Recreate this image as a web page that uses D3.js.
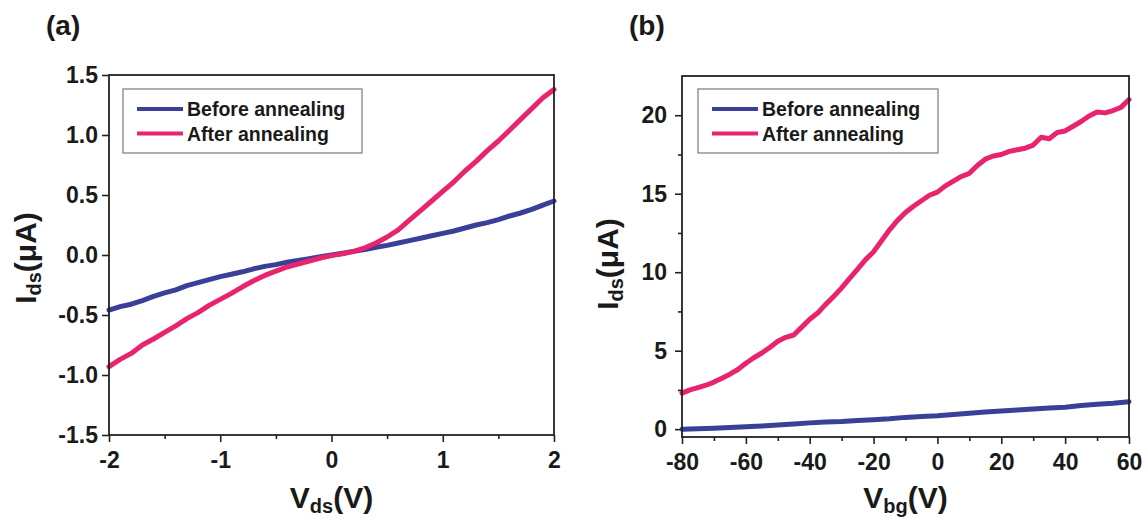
<!DOCTYPE html>
<html lang="en">
<head>
    <meta charset="UTF-8">
    <title>Ids vs Vds and Vbg</title>
    <script src="https://d3js.org/d3.v7.min.js"></script>
    <style>
        body { margin: 0; background: #ffffff; }
        svg text { font-family: "Liberation Sans", Arial, sans-serif; font-weight: bold; fill: #1a1a1a; }
    </style>
</head>
<body>
<script>
    // ---- data ----
    var seriesNames = ["Before annealing", "After annealing"];
    var seriesColors = ["#3a3f98", "#e8246f"];

    // panel (a): Ids (uA) vs Vds (V)
    var vdsValues = [-2.0, -1.9, -1.8, -1.7, -1.6, -1.5, -1.4, -1.3, -1.2, -1.1, -1.0,
                     -0.9, -0.8, -0.7, -0.6, -0.5, -0.4, -0.3, -0.2, -0.1, 0.0,
                     0.1, 0.2, 0.3, 0.4, 0.5, 0.6, 0.7, 0.8, 0.9, 1.0,
                     1.1, 1.2, 1.3, 1.4, 1.5, 1.6, 1.7, 1.8, 1.9, 2.0];
    var beforeA = [-0.46, -0.43, -0.41, -0.38, -0.345, -0.315, -0.29, -0.255, -0.23, -0.205, -0.18,
                   -0.16, -0.14, -0.115, -0.095, -0.08, -0.06, -0.045, -0.03, -0.015, 0.0,
                   0.015, 0.03, 0.045, 0.065, 0.08, 0.1, 0.12, 0.14, 0.16, 0.18,
                   0.2, 0.225, 0.25, 0.27, 0.295, 0.325, 0.35, 0.38, 0.415, 0.45];
    var afterA = [-0.93, -0.87, -0.82, -0.75, -0.70, -0.645, -0.59, -0.53, -0.48, -0.42, -0.37,
                  -0.32, -0.265, -0.215, -0.17, -0.135, -0.1, -0.075, -0.05, -0.025, -0.005,
                  0.01, 0.03, 0.06, 0.1, 0.15, 0.21, 0.29, 0.37, 0.45, 0.53,
                  0.61, 0.70, 0.78, 0.87, 0.95, 1.04, 1.13, 1.22, 1.31, 1.38];
    var xTicksA = [-2, -1, 0, 1, 2];
    var xMinorA = [-1.5, -0.5, 0.5, 1.5];
    var yTicksA = [-1.5, -1.0, -0.5, 0.0, 0.5, 1.0, 1.5];

    // panel (b): Ids (uA) vs Vbg (V)
    var vbgAfter = [-80, -77.5, -75, -72.5, -70, -67.5, -65, -62.5, -60, -57.5, -55, -52.5, -50, -47.5,
                    -45, -42.5, -40, -37.5, -35, -32.5, -30, -27.5, -25, -22.5, -20, -17.5, -15, -12.5,
                    -10, -7.5, -5, -2.5, 0, 2.5, 5, 7.5, 10, 12.5, 15, 17.5, 20, 22.5, 25, 27.5,
                    30, 32.5, 35, 37.5, 40, 42.5, 45, 47.5, 50, 52.5, 55, 57.5, 60];
    var afterB = [2.3, 2.5, 2.65, 2.8, 3.0, 3.25, 3.5, 3.8, 4.2, 4.55, 4.85, 5.2, 5.6, 5.85,
                  6.0, 6.5, 7.0, 7.4, 7.95, 8.45, 9.0, 9.6, 10.2, 10.8, 11.3, 12.0, 12.7, 13.3,
                  13.8, 14.2, 14.55, 14.9, 15.1, 15.5, 15.8, 16.1, 16.3, 16.8, 17.2, 17.4, 17.5, 17.7, 17.8, 17.9,
                  18.1, 18.6, 18.5, 18.9, 19.0, 19.3, 19.6, 19.95, 20.2, 20.15, 20.3, 20.5, 21.0];
    var vbgBefore = [-80, -75, -70, -65, -60, -55, -50, -45, -40, -35, -30, -25, -20, -15,
                     -10, -5, 0, 5, 10, 15, 20, 25, 30, 35, 40, 45, 50, 55, 60];
    var beforeB = [0.0, 0.02, 0.05, 0.1, 0.15, 0.2, 0.26, 0.33, 0.4, 0.45, 0.48, 0.55, 0.6, 0.66,
                   0.75, 0.8, 0.85, 0.93, 1.02, 1.1, 1.15, 1.22, 1.28, 1.35, 1.4, 1.5, 1.58, 1.65, 1.75];
    var xTicksB = [-80, -60, -40, -20, 0, 20, 40, 60];
    var xMinorB = [-70, -50, -30, -10, 10, 30, 50];
    var yTicksB = [0, 5, 10, 15, 20];
    var yMinorB = [2.5, 7.5, 12.5, 17.5];

    var w = 1148;
    var h = 527;

    var svg = d3.select("body")
        .append("svg")
        .attr("width", w)
        .attr("height", h);

    function drawPanel(p) {
        var xScale = d3.scaleLinear().domain(p.xDomain).range([p.left, p.right]);
        var yScale = d3.scaleLinear().domain(p.yDomain).range([p.bottom, p.top]);
        var g = svg.append("g");

        // minor ticks
        g.append("g")
            .attr("transform", "translate(0," + p.bottom + ")")
            .call(d3.axisBottom(xScale).tickValues(p.xMinor).tickSize(4).tickFormat(""))
            .call(function(s) { s.select(".domain").remove(); });
        if (p.yMinor) {
            g.append("g")
                .attr("transform", "translate(" + p.left + ",0)")
                .call(d3.axisLeft(yScale).tickValues(p.yMinor).tickSize(4).tickFormat(""))
                .call(function(s) { s.select(".domain").remove(); });
        }

        // major ticks + labels
        var xAxis = g.append("g")
            .attr("transform", "translate(0," + p.bottom + ")")
            .call(d3.axisBottom(xScale).tickValues(p.xTicks).tickSize(7).tickPadding(10)
                .tickFormat(function(d) { return String(d); }));
        xAxis.select(".domain").remove();

        var yAxis = g.append("g")
            .attr("transform", "translate(" + p.left + ",0)")
            .call(d3.axisLeft(yScale).tickValues(p.yTicks).tickSize(7).tickPadding(p.yPad)
                .tickFormat(p.yFormat));
        yAxis.select(".domain").remove();

        g.selectAll(".tick line").attr("stroke", "#222").attr("stroke-width", 1.6);
        g.selectAll(".tick text")
            .attr("font-size", "23px")
            .attr("font-family", "'Liberation Sans', Arial, sans-serif")
            .attr("font-weight", "bold")
            .attr("fill", "#1a1a1a");

        // data lines
        var line = d3.line()
            .x(function(d) { return xScale(d[0]); })
            .y(function(d) { return yScale(d[1]); });

        p.series.forEach(function(s, i) {
            var pts = d3.zip(s.x, s.y);
            g.append("path")
                .datum(pts)
                .attr("d", line)
                .attr("fill", "none")
                .attr("stroke", seriesColors[i])
                .attr("stroke-width", 5)
                .attr("stroke-linejoin", "round")
                .attr("stroke-linecap", "round");
        });

        // frame
        g.append("rect")
            .attr("x", p.left)
            .attr("y", p.top)
            .attr("width", p.right - p.left)
            .attr("height", p.bottom - p.top)
            .attr("fill", "none")
            .attr("stroke", "#222")
            .attr("stroke-width", 1.8);

        // legend
        var lg = g.append("g").attr("transform", "translate(" + p.legX + "," + p.legY + ")");
        lg.append("rect")
            .attr("width", p.legW)
            .attr("height", 64)
            .attr("fill", "white")
            .attr("stroke", "#7a7a7a")
            .attr("stroke-width", 1.2);
        seriesNames.forEach(function(name, i) {
            var yy = 20 + i * 24.5;
            lg.append("line")
                .attr("x1", 14).attr("x2", 60)
                .attr("y1", yy).attr("y2", yy)
                .attr("stroke", seriesColors[i])
                .attr("stroke-width", 4);
            lg.append("text")
                .attr("x", 64)
                .attr("y", yy + 7)
                .attr("font-size", "19.5px")
                .text(name);
        });

        // x title
        var xt = g.append("text")
            .attr("x", (p.left + p.right) / 2)
            .attr("y", 508)
            .attr("text-anchor", "middle")
            .attr("font-size", "30px");
        xt.append("tspan").text("V");
        xt.append("tspan").attr("font-size", "20px").attr("dy", 5).text(p.xSub);
        xt.append("tspan").attr("dy", -5).text("(V)");

        // y title
        var yt = g.append("text")
            .attr("transform", "translate(" + p.yTitleX + "," + p.yTitleY + ") rotate(-90)")
            .attr("text-anchor", "middle")
            .attr("font-size", "30px");
        yt.append("tspan").text("I");
        yt.append("tspan").attr("font-size", "20px").attr("dy", 5).text("ds");
        yt.append("tspan").attr("dy", -5).text("(\u03bcA)");

        // panel tag
        g.append("text")
            .attr("x", p.tagX)
            .attr("y", 35)
            .attr("font-size", "28px")
            .text(p.tag);
    }

    drawPanel({
        left: 109, right: 554, top: 75, bottom: 435,
        xDomain: [-2, 2], yDomain: [-1.5, 1.5],
        xTicks: xTicksA, xMinor: xMinorA, yTicks: yTicksA, yMinor: null,
        yFormat: function(d) { return d.toFixed(1); }, yPad: 4,
        series: [{ x: vdsValues, y: beforeA }, { x: vdsValues, y: afterA }],
        legX: 123, legY: 89, legW: 239,
        xSub: "ds", yTitleX: 36, yTitleY: 258,
        tag: "(a)", tagX: 46
    });

    drawPanel({
        left: 682, right: 1129, top: 76, bottom: 437,
        xDomain: [-80, 60], yDomain: [-0.5, 22.5],
        xTicks: xTicksB, xMinor: xMinorB, yTicks: yTicksB, yMinor: yMinorB,
        yFormat: function(d) { return String(d); }, yPad: 8,
        series: [{ x: vbgBefore, y: beforeB }, { x: vbgAfter, y: afterB }],
        legX: 698, legY: 89, legW: 240,
        xSub: "bg", yTitleX: 618, yTitleY: 264,
        tag: "(b)", tagX: 629
    });
</script>
</body>
</html>
